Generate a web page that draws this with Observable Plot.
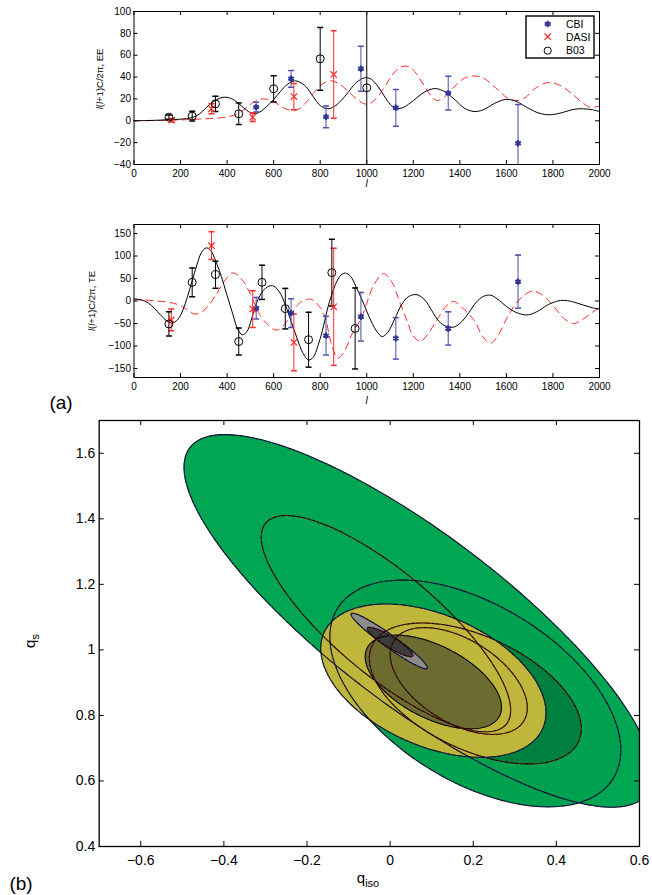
<!DOCTYPE html>
<html><head><meta charset="utf-8">
<script src="https://cdn.jsdelivr.net/npm/d3@7"></script>
<script src="https://cdn.jsdelivr.net/npm/@observablehq/plot@0.6"></script>
<style>
body{margin:0;background:#fff;}
#wrap{position:relative;width:652px;height:895px;font-family:"Liberation Sans",Arial,Helvetica,sans-serif;color:#000;overflow:hidden;}
#wrap svg{position:absolute;left:0;}
.lab{position:absolute;white-space:nowrap;line-height:1;}
</style></head><body><div id="wrap"></div>
<script>
// ---------- DATA ----------
const xTicksA = [0,200,400,600,800,1000,1200,1400,1600,1800,2000];
const yTicksEE = [-40,-20,0,20,40,60,80,100];
const yTicksTE = [-150,-100,-50,0,50,100,150];

// EE theory: adiabatic (black) and isocurvature (red dashed)
const eeAdL = [0,50,100,150,200,250,280,310,340,370,390,410,440,470,500,520,540,570,600,630,660,690,710,740,770,800,830,860,890,920,950,980,1000,1020,1050,1080,1110,1130,1160,1200,1250,1295,1340,1380,1420,1460,1500,1550,1596,1640,1690,1740,1789,1840,1890,1930,1970,2000];
const eeAdV = [0,0.2,0.5,0.9,1.5,3,6,12,17.5,20.8,21.6,21,17.5,12,7.5,6.5,8,13,19.5,27,33.5,36.5,35.5,31,22,14,11,13,18.5,26,34,38.5,39.5,38,31,21,13,11,12.5,18.5,26.5,29.5,26,19,11.5,8.5,10,16,19.5,18,12,7,5.5,7.5,10.5,11,10,8.5];
const eeIsoL = [0,100,200,300,400,450,480,510,540,560,590,620,650,680,710,740,770,800,830,850,880,910,940,970,990,1020,1050,1080,1110,1140,1165,1190,1220,1250,1280,1302,1330,1370,1420,1467,1510,1560,1610,1646,1680,1720,1760,1789,1830,1880,1930,1961,2000];
const eeIsoV = [0,0.3,0.8,1.8,3.5,7,11.5,16.5,19.5,20,18.5,15,11,9.5,11,17,25,32,36,36.5,34,29,23,18,15.5,16.5,23,32,42,48.5,50,48.5,41,31,22,18.6,21,30,39,41,38,29,20,18.6,21,29,34,35,32.5,25,16,12.4,13.5];

// TE theory
const teAdL = [0,25,50,75,100,125,150,170,190,210,230,250,270,290,310,330,350,375,400,425,445,465,485,505,530,555,580,600,625,650,675,700,725,750,770,790,810,830,850,870,890,908,930,960,990,1010,1040,1066,1090,1120,1150,1180,1216,1250,1280,1310,1340,1374,1410,1440,1470,1500,1531,1560,1600,1640,1689,1730,1780,1820,1846,1880,1930,1970,2000];
const teAdV = [5,3,-1,-10,-23,-37,-47,-48,-40,-20,10,45,80,108,118,112,90,55,12,-30,-62,-75,-68,-40,0,23,33,33,20,-8,-45,-82,-115,-131,-125,-100,-65,-20,15,42,58,62,55,25,-10,-35,-65,-79,-70,-40,-8,10,14,2,-22,-45,-56,-58,-45,-25,-3,10,13,5,-12,-25,-31,-24,-8,0,1.5,-1,-9,-15,-18];
const teIsoL = [0,50,100,150,200,230,260,290,320,350,380,400,420,440,460,480,500,520,540,570,600,620,650,680,710,740,760,790,820,845,875,900,940,973,1000,1030,1072,1110,1140,1172,1200,1231,1260,1302,1340,1374,1410,1460,1500,1531,1560,1600,1631,1670,1710,1750,1800,1850,1889,1930,1970,2000];
const teIsoV = [3,2,0,-3,-10,-20,-29,-25,-10,12,38,52,62,60,50,36,15,-8,-30,-50,-63,-64,-50,-25,-5,3,4,-8,-34,-90,-127,-115,-70,-42,-5,35,61,40,0,-42,-78,-90,-75,-42,-12,-1,-15,-42,-80,-94,-80,-40,-13,10,22,15,-10,-40,-50,-40,-25,-15];

// EE measurements
const cbiEEl = [525,675,825,975,1125,1350,1650];
const cbiEEv = [12.5,38.4,3.6,47.6,11.9,25.3,-20.5];
const cbiEEe = [4.5,7.6,10,20.6,16.8,15.5,35.5];
const dasiEEl = [162,333,510,687,858];
const dasiEEv = [0.5,11,3.3,22.2,42.4];
const dasiEEe = [1.5,4.6,4,12,40];
const b03EEl = [150,250,350,450,600,800,1000];
const b03EEv = [3.3,4.3,15.5,6.4,29.3,56.7,30.2];
const b03EEe = [2,4.5,7,9.8,12,28.7,200];

// TE measurements
const cbiTEl = [525,675,825,975,1125,1350,1650];
const cbiTEv = [-16,-27,-77,-35,-83,-61,43];
const cbiTEe = [24,32,43,54,46,37,59];
const dasiTEl = [160,333,510,687,858];
const dasiTEv = [-42,123,-18,-92,-13];
const dasiTEe = [24,31,41,63,130];
const b03TEl = [150,250,350,450,550,650,750,850,950];
const b03TEv = [-51,41.5,58.6,-90,41.5,-17,-86,63,-61];
const b03TEe = [27,32,30,30,38,45,61,74,90];

const legendNames = ["CBI","DASI","B03"];

// Panel (b): confidence ellipses (centre, half-extent in x and y, correlation)
const ellName = ["A2","C2","C1","Y2","Y1","G2","G1","A1","E1"];
const ellCx   = [0.068, 0.205, 0.205, 0.104, 0.104, -0.002, 0.000, -0.010, 0.165];
const ellCy   = [1.0885,0.867, 0.867, 0.906, 0.902, 1.027, 1.024, 1.080, 0.905];
const ellRx   = [0.564, 0.350, 0.255, 0.271, 0.164, 0.092, 0.055, 0.300, 0.165];
const ellRy   = [0.5685,0.346, 0.215, 0.234, 0.143, 0.085, 0.045, 0.330, 0.163];
const ellRho  = [-0.825,-0.50, -0.50, -0.42, -0.54, -0.96, -0.90, -0.80, -0.50];
const bxTicks = [-0.6,-0.4,-0.2,0,0.2,0.4,0.6];
const byTicks = [0.4,0.6,0.8,1,1.2,1.4,1.6];

// ---------- STYLE / DRAW ----------
const W = 652;
const FONT = '"Liberation Sans", Arial, Helvetica, sans-serif';
const wrap = document.getElementById("wrap");
const zip = (ls, vs, es) => ls.map((l,i)=>({l, v: vs[i], lo: es ? vs[i]-es[i] : null, hi: es ? vs[i]+es[i] : null}));
const cap = {draw(ctx){ ctx.moveTo(-3,0); ctx.lineTo(3,0); }};
const BLUE = "#2f3497", RED = "#ff2a2a";
const intFmt = d => String(d).replace("-", "\u2212");

function inwardTicks(xt, yt, ih, iw, tk) {
  return [
    Plot.tickX(xt, {x: d=>d, insetTop: ih - tk, stroke:"#000"}),
    Plot.tickX(xt, {x: d=>d, insetBottom: ih - tk, stroke:"#000"}),
    Plot.tickY(yt, {y: d=>d, insetRight: iw - tk, stroke:"#000"}),
    Plot.tickY(yt, {y: d=>d, insetLeft: iw - tk, stroke:"#000"})
  ];
}

function spectrum({top, yDomain, yTicks, ad, iso, cbi, dasi, b03}) {
  const mt=11, mb=36, ml=133.5, mr=53, h=200;
  const iw = W-ml-mr, ih = h-mt-mb;
  const series = [[cbi, "#4a4fb0"], [dasi, RED], [b03, "#000"]];
  const marks = [
    Plot.line(iso, {x:"l", y:"v", stroke:RED, strokeWidth:1, strokeDasharray:"7,5", curve:"catmull-rom", clip:true}),
    Plot.line(ad, {x:"l", y:"v", stroke:"#000", strokeWidth:1, curve:"catmull-rom", clip:true})
  ];
  for (const [rows, color] of series) {
    marks.push(Plot.ruleX(rows, {x:"l", y1:"lo", y2:"hi", stroke: color, strokeWidth:1, clip:true}));
    marks.push(Plot.dot(rows, {x:"l", y:"lo", symbol: cap, stroke: color, r:3, clip:true}));
    marks.push(Plot.dot(rows, {x:"l", y:"hi", symbol: cap, stroke: color, r:3, clip:true}));
  }
  marks.push(Plot.dot(cbi, {x:"l", y:"v", symbol:"asterisk", stroke:BLUE, strokeWidth:2, r:3}));
  marks.push(Plot.dot(dasi, {x:"l", y:"v", symbol:"times", stroke:RED, strokeWidth:1.2, r:3}));
  marks.push(Plot.dot(b03, {x:"l", y:"v", symbol:"circle", stroke:"#000", fill:"none", strokeWidth:1, r:4}));
  marks.push(...inwardTicks(xTicksA, yTicks, ih, iw, 4));
  marks.push(Plot.frame({stroke:"#000", strokeWidth:1}));
  const svg = Plot.plot({
    width: W, height: h, marginTop: mt, marginBottom: mb, marginLeft: ml, marginRight: mr,
    style: {fontFamily: FONT, fontSize: "10px", background: "transparent", overflow:"visible"},
    x: {domain: [0, 2000], ticks: xTicksA, tickFormat: intFmt, tickSize: 0, tickPadding: 5, label: null},
    y: {domain: yDomain, ticks: yTicks, tickFormat: intFmt, tickSize: 0, tickPadding: 3, label: null},
    marks
  });
  svg.style.top = top + "px";
  wrap.appendChild(svg);
}

spectrum({top: 0, yDomain: [-40, 100], yTicks: yTicksEE,
  ad: zip(eeAdL, eeAdV), iso: zip(eeIsoL, eeIsoV),
  cbi: zip(cbiEEl, cbiEEv, cbiEEe), dasi: zip(dasiEEl, dasiEEv, dasiEEe), b03: zip(b03EEl, b03EEv, b03EEe)});
spectrum({top: 213, yDomain: [-170, 170], yTicks: yTicksTE,
  ad: zip(teAdL, teAdV), iso: zip(teIsoL, teIsoV),
  cbi: zip(cbiTEl, cbiTEv, cbiTEe), dasi: zip(dasiTEl, dasiTEv, dasiTEe), b03: zip(b03TEl, b03TEv, b03TEe)});

// ---- panel (b)
function ellipsePts(i) {
  const s = Math.sqrt(1 - ellRho[i]*ellRho[i]);
  return d3.range(0, 361, 1.5).map(deg => {
    const t = deg * Math.PI / 180;
    return {x: ellCx[i] + ellRx[i]*Math.cos(t), y: ellCy[i] + ellRy[i]*(ellRho[i]*Math.cos(t) + s*Math.sin(t))};
  });
}
const fillColor = {A2:"#00a651", C2:"#00a24f", C1:"#00803f", Y2:"#bfb63c", Y1:"#6c6c31", G2:"#8c8c8c", G1:"#3c3c3c"};
const tint = {A2:"#2a3a9a", C2:"#2a3a9a", C1:"#a02020", Y2:"#2a3a9a", Y1:null, G2:"#2a3a9a", G1:"#a02020", A1:"#a02020", E1:"#a02020"};
{
  const mt=20, mb=30, ml=98.7, mr=13, h=476;
  const iw = W-ml-mr, ih = h-mt-mb;
  const marks = [];
  ellName.forEach((n,i) => { if (fillColor[n]) marks.push(Plot.line(ellipsePts(i), {x:"x", y:"y", fill: fillColor[n], stroke:"none", clip:true})); });
  ellName.forEach((n,i) => {
    marks.push(Plot.line(ellipsePts(i), {x:"x", y:"y", stroke:"#000", strokeWidth:1.1, clip:true}));
    if (tint[n]) marks.push(Plot.line(ellipsePts(i), {x:"x", y:"y", stroke: tint[n], strokeWidth:0.8, strokeDasharray:"2,3", clip:true}));
  });
  marks.push(...inwardTicks(bxTicks, byTicks, ih, iw, 5));
  marks.push(Plot.frame({stroke:"#000", strokeWidth:1.3}));
  const fmt = d => String(+d.toFixed(1)).replace("-", "\u2212");
  const svg = Plot.plot({
    width: W, height: h, marginTop: mt, marginBottom: mb, marginLeft: ml, marginRight: mr,
    style: {fontFamily: FONT, fontSize: "14px", background: "transparent", overflow:"visible"},
    x: {domain: [-0.7, 0.6], ticks: bxTicks, tickFormat: fmt, tickSize: 0, tickPadding: 9, label: null},
    y: {domain: [0.4, 1.7], ticks: byTicks, tickFormat: fmt, tickSize: 0, tickPadding: 4, label: null},
    marks
  });
  svg.style.top = "400px";
  wrap.appendChild(svg);
}

// ---- text labels and legend
function label(html, x, y, size, rotate) {
  const d = document.createElement("div");
  d.className = "lab";
  d.innerHTML = html;
  d.style.left = x + "px"; d.style.top = y + "px"; d.style.fontSize = size + "px";
  d.style.transform = "translate(-50%,-50%)" + (rotate ? " rotate(-90deg)" : "");
  wrap.appendChild(d);
}
label("<i>l</i>(<i>l</i>+1)C/2\u03c0, EE", 100, 79, 9.5, true);
label("<i>l</i>(<i>l</i>+1)C/2\u03c0, TE", 92, 301, 9.5, true);
label("<i>l</i>", 366.7, 184, 10);
label("<i>l</i>", 366.7, 401, 10);
label("(a)", 61, 402, 19);
label("(b)", 21, 883, 19);
label("q<sub style='font-size:11px;vertical-align:-4px'>s</sub>", 31, 641, 15, true);
label("q<sub style='font-size:11px;vertical-align:-4px'>iso</sub>", 368, 879, 15);

// legend
{
  const ns = "http://www.w3.org/2000/svg";
  const svg = document.createElementNS(ns, "svg");
  svg.setAttribute("width", 70); svg.setAttribute("height", 44);
  svg.style.left = "525px"; svg.style.top = "15px";
  svg.innerHTML = `<rect x="1" y="1" width="68" height="42" fill="#fff" stroke="#000" stroke-width="1.4"/>` +
    `<path d="${d3.symbol(d3.symbolAsterisk, 30)()}" transform="translate(22.7,9)" stroke="${BLUE}" stroke-width="2" fill="none"/>` +
    `<path d="${d3.symbol(d3.symbolTimes, 28)()}" transform="translate(22.7,21.7)" stroke="${RED}" stroke-width="1.2" fill="none"/>` +
    `<circle cx="22.7" cy="35.7" r="3.6" stroke="#000" fill="none"/>` +
    legendNames.map((n,i)=>`<text x="41" y="${9+i*13.3}" dy="0.35em" font-size="10.5" font-family='${FONT}'>${n}</text>`).join("");
  wrap.appendChild(svg);
}
</script></body></html>
